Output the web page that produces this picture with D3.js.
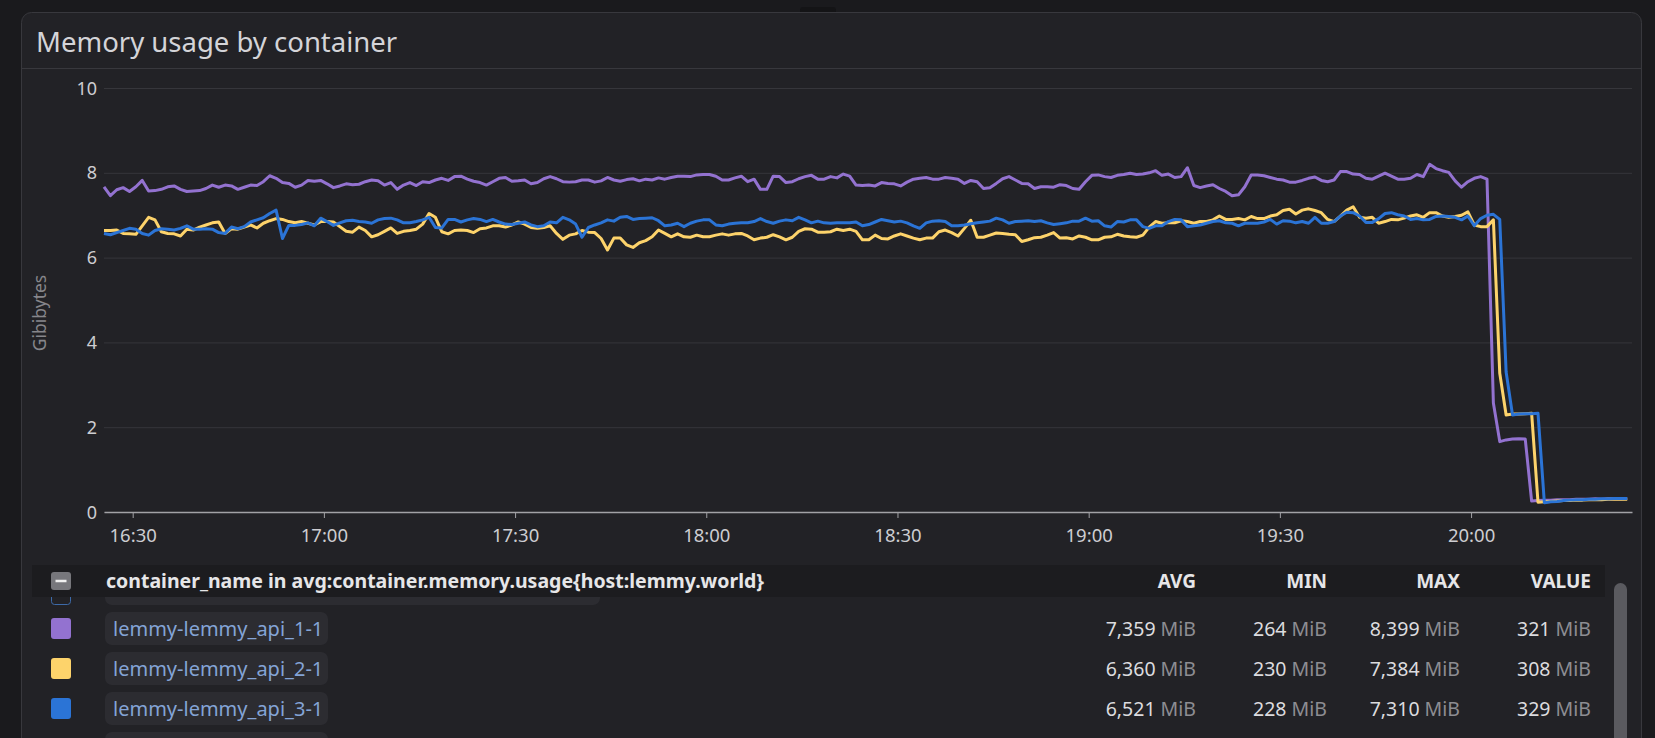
<!DOCTYPE html>
<html>
<head>
<meta charset="utf-8">
<script src="https://cdn.jsdelivr.net/npm/d3@7"></script>
<style>
  body { margin: 0; background: #1a1a1d; font-family: "Noto Sans", sans-serif; }
</style>
</head>
<body>
<div id="chart"></div>
<script>
// GiB per minute, from 16:25:30 onwards
const api1 = [
  7.67, 7.46, 7.60, 7.65, 7.56, 7.67, 7.82, 7.57, 7.58, 7.61,
  7.67, 7.69, 7.61, 7.56, 7.57, 7.58, 7.63, 7.71, 7.66, 7.71,
  7.69, 7.61, 7.66, 7.71, 7.70, 7.79, 7.93, 7.87, 7.77, 7.75,
  7.66, 7.71, 7.82, 7.80, 7.82, 7.74, 7.65, 7.69, 7.74, 7.72,
  7.73, 7.79, 7.83, 7.81, 7.71, 7.77, 7.61, 7.71, 7.77, 7.70,
  7.79, 7.77, 7.83, 7.87, 7.82, 7.91, 7.92, 7.85, 7.80, 7.77,
  7.71, 7.79, 7.87, 7.89, 7.80, 7.81, 7.83, 7.74, 7.77, 7.86,
  7.91, 7.86, 7.79, 7.78, 7.79, 7.83, 7.83, 7.78, 7.81, 7.89,
  7.83, 7.80, 7.84, 7.86, 7.81, 7.85, 7.83, 7.88, 7.85, 7.89,
  7.92, 7.92, 7.91, 7.95, 7.96, 7.96, 7.92, 7.83, 7.83, 7.88,
  7.92, 7.79, 7.85, 7.61, 7.61, 7.92, 7.91, 7.77, 7.79, 7.86,
  7.91, 7.94, 7.85, 7.85, 7.91, 7.88, 7.97, 7.92, 7.71, 7.70,
  7.71, 7.69, 7.77, 7.75, 7.74, 7.69, 7.78, 7.85, 7.87, 7.89,
  7.85, 7.85, 7.89, 7.87, 7.85, 7.75, 7.82, 7.79, 7.63, 7.65,
  7.75, 7.86, 7.91, 7.83, 7.75, 7.74, 7.63, 7.67, 7.67, 7.66,
  7.72, 7.70, 7.63, 7.61, 7.79, 7.94, 7.95, 7.91, 7.89, 7.94,
  7.96, 7.99, 7.96, 7.97, 8.00, 8.05, 7.94, 7.97, 7.89, 7.91,
  8.12, 7.70, 7.65, 7.69, 7.72, 7.63, 7.56, 7.46, 7.48, 7.67,
  7.95, 7.95, 7.93, 7.89, 7.85, 7.83, 7.78, 7.78, 7.82, 7.87,
  7.90, 7.82, 7.79, 7.83, 8.03, 8.03, 7.97, 7.96, 7.87, 7.85,
  7.92, 7.99, 7.92, 7.85, 7.85, 7.87, 7.96, 7.91, 8.20, 8.10,
  8.05, 8.01, 7.81, 7.66, 7.79, 7.87, 7.91, 7.85, 2.57, 1.66,
  1.70, 1.72, 1.73, 1.72, 0.26, 0.27, 0.28, 0.28, 0.29, 0.29,
  0.29, 0.30, 0.30, 0.30, 0.31, 0.30, 0.31, 0.31, 0.31, 0.32
];
const api2 = [
  6.64, 6.64, 6.65, 6.57, 6.56, 6.55, 6.75, 6.95, 6.89, 6.61,
  6.57, 6.56, 6.51, 6.67, 6.65, 6.72, 6.77, 6.82, 6.84, 6.57,
  6.68, 6.67, 6.72, 6.77, 6.70, 6.81, 6.87, 6.92, 6.90, 6.85,
  6.82, 6.85, 6.81, 6.77, 6.85, 6.85, 6.84, 6.73, 6.62, 6.60,
  6.72, 6.64, 6.49, 6.54, 6.62, 6.70, 6.57, 6.62, 6.64, 6.67,
  6.79, 7.04, 6.95, 6.61, 6.56, 6.64, 6.65, 6.64, 6.59, 6.68,
  6.70, 6.75, 6.75, 6.72, 6.77, 6.84, 6.79, 6.71, 6.69, 6.71,
  6.75, 6.57, 6.43, 6.53, 6.56, 6.64, 6.60, 6.59, 6.45, 6.18,
  6.46, 6.46, 6.30, 6.24, 6.35, 6.40, 6.49, 6.65, 6.57, 6.49,
  6.56, 6.49, 6.48, 6.53, 6.49, 6.49, 6.53, 6.56, 6.53, 6.56,
  6.57, 6.51, 6.42, 6.46, 6.48, 6.54, 6.49, 6.42, 6.48, 6.62,
  6.68, 6.67, 6.60, 6.60, 6.61, 6.67, 6.64, 6.67, 6.62, 6.42,
  6.42, 6.53, 6.45, 6.44, 6.51, 6.56, 6.51, 6.46, 6.42, 6.46,
  6.46, 6.61, 6.65, 6.59, 6.51, 6.69, 6.88, 6.48, 6.48, 6.53,
  6.58, 6.57, 6.55, 6.54, 6.38, 6.42, 6.47, 6.48, 6.53, 6.59,
  6.46, 6.47, 6.44, 6.51, 6.48, 6.42, 6.42, 6.48, 6.49, 6.55,
  6.51, 6.49, 6.48, 6.53, 6.72, 6.85, 6.81, 6.82, 6.82, 6.87,
  6.85, 6.81, 6.85, 6.85, 6.89, 6.98, 6.90, 6.90, 6.92, 6.89,
  6.97, 6.92, 6.92, 6.98, 7.01, 7.11, 7.14, 7.03, 7.12, 7.15,
  7.11, 7.06, 6.90, 6.85, 6.98, 7.12, 7.20, 6.95, 6.93, 6.95,
  6.81, 6.85, 6.90, 6.89, 6.93, 6.98, 7.01, 6.95, 7.06, 7.06,
  6.98, 6.95, 6.97, 7.00, 7.08, 6.77, 6.73, 6.73, 6.89, 3.27,
  2.29, 2.31, 2.31, 2.32, 2.33, 0.23, 0.24, 0.25, 0.26, 0.27,
  0.27, 0.28, 0.28, 0.29, 0.29, 0.29, 0.30, 0.30, 0.30, 0.30
];
const api3 = [
  6.57, 6.54, 6.59, 6.64, 6.69, 6.67, 6.57, 6.53, 6.64, 6.68,
  6.67, 6.65, 6.69, 6.75, 6.67, 6.67, 6.68, 6.67, 6.59, 6.57,
  6.72, 6.68, 6.73, 6.84, 6.89, 6.94, 7.04, 7.12, 6.45, 6.76,
  6.76, 6.78, 6.82, 6.75, 6.93, 6.85, 6.76, 6.82, 6.87, 6.88,
  6.85, 6.84, 6.81, 6.89, 6.92, 6.93, 6.89, 6.82, 6.82, 6.85,
  6.89, 6.95, 6.71, 6.70, 6.90, 6.90, 6.84, 6.89, 6.92, 6.90,
  6.85, 6.90, 6.84, 6.79, 6.78, 6.81, 6.84, 6.77, 6.73, 6.75,
  6.84, 6.82, 6.95, 6.89, 6.79, 6.48, 6.71, 6.77, 6.82, 6.89,
  6.86, 6.95, 6.97, 6.90, 6.92, 6.93, 6.94, 6.87, 6.75, 6.77,
  6.81, 6.73, 6.81, 6.86, 6.89, 6.89, 6.77, 6.75, 6.79, 6.81,
  6.82, 6.82, 6.85, 6.92, 6.85, 6.81, 6.86, 6.89, 6.87, 6.95,
  6.89, 6.82, 6.86, 6.82, 6.81, 6.82, 6.82, 6.82, 6.84, 6.75,
  6.78, 6.84, 6.90, 6.87, 6.84, 6.86, 6.82, 6.75, 6.69, 6.82,
  6.86, 6.87, 6.85, 6.75, 6.75, 6.77, 6.80, 6.82, 6.84, 6.86,
  6.93, 6.89, 6.81, 6.85, 6.86, 6.87, 6.85, 6.87, 6.82, 6.78,
  6.80, 6.82, 6.86, 6.86, 6.93, 6.86, 6.87, 6.75, 6.72, 6.85,
  6.84, 6.89, 6.89, 6.73, 6.69, 6.75, 6.75, 6.85, 6.90, 6.89,
  6.73, 6.75, 6.77, 6.81, 6.85, 6.87, 6.82, 6.81, 6.75, 6.81,
  6.81, 6.81, 6.84, 6.90, 6.79, 6.87, 6.86, 6.82, 6.85, 6.81,
  6.95, 6.81, 6.81, 6.85, 6.98, 7.07, 7.06, 6.98, 6.83, 6.83,
  6.92, 7.04, 7.06, 7.01, 6.98, 6.90, 6.92, 6.89, 6.90, 6.97,
  6.98, 6.97, 6.95, 6.89, 6.98, 6.75, 6.92, 7.00, 7.02, 6.90,
  3.30, 2.29, 2.31, 2.32, 2.32, 2.33, 0.22, 0.24, 0.25, 0.27,
  0.28, 0.29, 0.29, 0.30, 0.30, 0.31, 0.31, 0.32, 0.32, 0.32
];

const seriesNames = ["lemmy-lemmy_api_1-1", "lemmy-lemmy_api_2-1", "lemmy-lemmy_api_3-1"];
const seriesColors = ["#9372d0", "#fdd36b", "#2b74d6"];
const avgLabels = ["7,359", "6,360", "6,521"];
const minLabels = ["264", "230", "228"];
const maxLabels = ["8,399", "7,384", "7,310"];
const valueLabels = ["321", "308", "329"];
const statHeaders = ["AVG", "MIN", "MAX", "VALUE"];
const yTicks = [0, 2, 4, 6, 8, 10];
const startTime = new Date(2023, 6, 9, 16, 25, 30);
const endTime = new Date(2023, 6, 9, 20, 25, 15);

const W = 1655, H = 738;
const svg = d3.select("#chart").append("svg")
  .attr("width", W).attr("height", H)
  .style("display", "block");

svg.append("rect").attr("width", W).attr("height", H).attr("fill", "#1a1a1d");
// little tab above the panel
svg.append("rect").attr("x", 800).attr("y", 7).attr("width", 36).attr("height", 7)
  .attr("rx", 3).attr("fill", "#141416");

// panel
svg.append("rect")
  .attr("x", 21.5).attr("y", 12.5).attr("width", 1620).attr("height", 800)
  .attr("rx", 10).attr("fill", "#222226").attr("stroke", "#38383d");
svg.append("line").attr("x1", 22).attr("x2", 1641).attr("y1", 68.5).attr("y2", 68.5)
  .attr("stroke", "#38383d");
svg.append("text").attr("x", 36).attr("y", 52)
  .attr("font-size", 27.5).attr("fill", "#d4d4d8")
  .text("Memory usage by container");

// scales
const x = d3.scaleTime().domain([startTime, endTime]).range([104, 1632]);
const y = d3.scaleLinear().domain([0, 10]).range([512, 88]);

// grid + y labels
const yAxis = svg.append("g")
  .attr("transform", "translate(104,0)")
  .call(d3.axisLeft(y).tickValues(yTicks).tickSize(-(1632 - 104)).tickFormat(d3.format("d")));
yAxis.select(".domain").remove();
yAxis.selectAll(".tick line").attr("stroke", "#36363b");
yAxis.selectAll(".tick text").attr("x", -7).attr("dy", "0.34em")
  .attr("font-size", 18).attr("font-family", "Noto Sans").attr("fill", "#cdcdd1");

svg.append("text")
  .attr("transform", "translate(46,313) rotate(-90)")
  .attr("text-anchor", "middle")
  .attr("font-size", 17.5).attr("fill", "#86868b")
  .text("Gibibytes");

// x axis
const xAxis = svg.append("g")
  .attr("transform", "translate(0,512)")
  .call(d3.axisBottom(x).ticks(d3.timeMinute.every(30))
    .tickFormat(d3.timeFormat("%H:%M")).tickSize(6).tickSizeOuter(0));
xAxis.select(".domain").attr("stroke", "#a2a2a6").attr("stroke-width", 1.5);
xAxis.selectAll(".tick line").attr("stroke", "#a2a2a6");
xAxis.selectAll(".tick text").attr("y", 12).attr("dy", "0.95em")
  .attr("font-size", 18.5).attr("font-family", "Noto Sans").attr("fill", "#cdcdd1");

// lines
const series = [api1, api2, api3];
const line = d3.line()
  .x((d, i) => x(d3.timeMinute.offset(startTime, i)))
  .y(d => y(d));
svg.append("g").selectAll("path")
  .data(series)
  .join("path")
  .attr("d", line)
  .attr("fill", "none")
  .attr("stroke", (d, i) => seriesColors[i])
  .attr("stroke-width", 3)
  .attr("stroke-linejoin", "round");

// legend table
const colRight = [1196, 1327, 1460, 1591];
const rowY = [588.5, 628.5, 668.5, 708.5, 748.5];

const legend = svg.append("g").attr("font-size", 19.5);

// row scrolled under the header + row below the fold
legend.append("rect").attr("x", 51.5).attr("y", 584.5).attr("width", 19).attr("height", 20)
  .attr("rx", 3).attr("fill", "none").attr("stroke", "#3d6aa8");
legend.append("rect").attr("x", 105).attr("y", 572).attr("width", 495).attr("height", 33)
  .attr("rx", 7).attr("fill", "#2c2c31");
legend.append("rect").attr("x", 105).attr("y", 732).attr("width", 223).attr("height", 33)
  .attr("rx", 7).attr("fill", "#2c2c31");

const rows = legend.selectAll(".row")
  .data(seriesNames)
  .join("g")
  .attr("class", "row")
  .attr("transform", (d, i) => `translate(0,${rowY[i + 1]})`);

rows.append("rect")
  .attr("x", 51).attr("y", -10.5).attr("width", 20).attr("height", 21)
  .attr("rx", 3).attr("fill", (d, i) => seriesColors[i]);
rows.append("rect")
  .attr("x", 105).attr("y", -16.5).attr("width", 223).attr("height", 33)
  .attr("rx", 7).attr("fill", "#2c2c31");
rows.append("text")
  .attr("x", 113).attr("y", 7)
  .attr("font-size", 20)
  .attr("fill", "#84a4d6")
  .text(d => d);

const stats = [avgLabels, minLabels, maxLabels, valueLabels];
stats.forEach((labels, c) => {
  const t = rows.append("text")
    .attr("x", colRight[c]).attr("y", 7)
    .attr("text-anchor", "end");
  t.append("tspan").attr("fill", "#dcdcdf").text((d, i) => labels[i]);
  t.append("tspan").attr("fill", "#8d8d92").text(" MiB");
});

// header band
legend.append("rect").attr("x", 32).attr("y", 565).attr("width", 1573).attr("height", 32)
  .attr("fill", "#1c1c1f");
legend.append("rect").attr("x", 51).attr("y", 572).attr("width", 20).attr("height", 18)
  .attr("rx", 3).attr("fill", "#77777c");
legend.append("line").attr("x1", 55.5).attr("x2", 66.5).attr("y1", 581).attr("y2", 581)
  .attr("stroke", "#f0f0f0").attr("stroke-width", 2.5);
legend.append("text").attr("x", 106).attr("y", 588)
  .attr("font-weight", "bold").attr("fill", "#e6e6e8")
  .text("container_name in avg:container.memory.usage{host:lemmy.world}");
legend.selectAll(".colhead")
  .data(statHeaders)
  .join("text")
  .attr("class", "colhead")
  .attr("x", (d, i) => colRight[i]).attr("y", 588)
  .attr("text-anchor", "end").attr("font-weight", "bold").attr("font-size", 19)
  .attr("fill", "#e6e6e8")
  .text(d => d);

// scrollbar
svg.append("rect").attr("x", 1614).attr("y", 583).attr("width", 13).attr("height", 170)
  .attr("rx", 6.5).attr("fill", "#5a5a5f");
</script>
</body>
</html>
